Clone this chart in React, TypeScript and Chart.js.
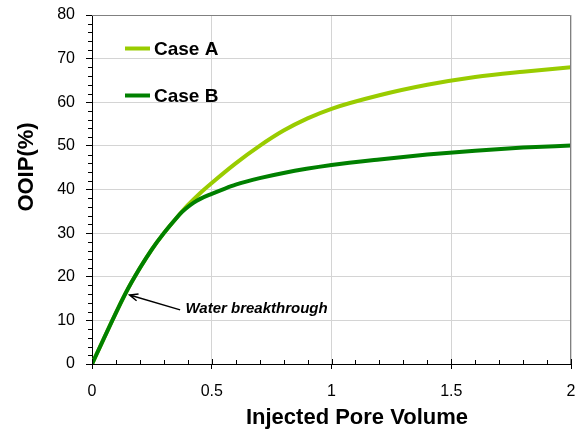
import React, { useEffect, useRef } from "react";
import { Chart, registerables } from "chart.js";

Chart.register(...registerables);

// ---- data ----
const caseLabels = ["Case A", "Case B"];
const caseAPV = [0, 0.14, 0.2, 0.25, 0.3, 0.35, 0.4, 0.45, 0.5, 0.6, 0.7, 0.8, 0.9, 1.0, 1.2, 1.4, 1.6, 1.8, 2.0];
const caseAOOIP = [0, 16.2, 22.0, 26.3, 30, 33.3, 36.4, 39.1, 41.5, 46, 50, 53.5, 56.3, 58.5, 61.6, 64, 65.8, 67, 68];
const caseBPV = [0, 0.14, 0.2, 0.25, 0.3, 0.35, 0.375, 0.4, 0.425, 0.45, 0.5, 0.55, 0.6, 0.7, 0.8, 1.0, 1.2, 1.4, 1.6, 1.8, 2.0];
const caseBOOIP = [0, 16.2, 22.0, 26.3, 30, 33.3, 34.8, 36.0, 37.0, 37.8, 39.0, 40.1, 41.1, 42.6, 43.8, 45.6, 46.9, 48.0, 48.9, 49.6, 50.1];
const xMin = 0, xMax = 2, xStep = 0.5, xMinorStep = 0.1;
const yMin = 0, yMax = 80, yStep = 10, yMinorStep = 2;
const xTitle = "Injected Pore Volume";
const yTitle = "OOIP(%)";
const annotationText = "Water breakthrough";
const annotationTip = { x: 0.157, y: 15.8 };
const annotationTail = { x: 0.368, y: 12.4 };
const annotationLabelAt = { x: 0.39, y: 12.6 };

const colors = ["#99CC00", "#008000"];
const FONT = "'Liberation Sans', Arial, Helvetica, sans-serif";

const zeroPad = (s: any) => {
  s.paddingTop = 0; s.paddingBottom = 0; s.paddingLeft = 0; s.paddingRight = 0;
};

const decorPlugin = {
  id: "decor",
  afterDraw(chart: any) {
    const { ctx, chartArea: a, scales } = chart;
    const x = scales.x, y = scales.y;
    ctx.save();
    // top/right frame
    ctx.strokeStyle = "#808080";
    ctx.lineWidth = 1;
    ctx.beginPath();
    ctx.moveTo(Math.round(a.left), Math.round(a.top) + 0.5);
    ctx.lineTo(Math.round(a.right) - 0.5, Math.round(a.top) + 0.5);
    ctx.lineTo(Math.round(a.right) - 0.5, Math.round(a.bottom));
    ctx.stroke();

    // minor ticks
    ctx.strokeStyle = "#000";
    ctx.beginPath();
    const nx = Math.round((xMax - xMin) / xMinorStep);
    for (let i = 0; i <= nx; i++) {
      const v = xMin + i * xMinorStep;
      const px = Math.round(x.getPixelForValue(v)) + 0.5;
      const major = i % Math.round(xStep / xMinorStep) === 0;
      const len = major ? 5 : 4;
      ctx.moveTo(px, a.bottom);
      ctx.lineTo(px, a.bottom - len);
    }
    const ny = Math.round((yMax - yMin) / yMinorStep);
    for (let i = 0; i <= ny; i++) {
      if (i % Math.round(yStep / yMinorStep) === 0) continue;
      const v = yMin + i * yMinorStep;
      const py = Math.round(y.getPixelForValue(v)) + 0.5;
      ctx.moveTo(a.left, py);
      ctx.lineTo(a.left - 4, py);
    }
    ctx.stroke();

    // axis titles
    ctx.fillStyle = "#000";
    ctx.font = `bold 22px ${FONT}`;
    ctx.textAlign = "center";
    ctx.textBaseline = "alphabetic";
    ctx.fillText(xTitle, a.left + 265, 424);
    ctx.save();
    ctx.translate(33, a.top + 152);
    ctx.rotate(-Math.PI / 2);
    ctx.fillText(yTitle, 0, 0);
    ctx.restore();

    // legend
    chart.data.datasets.forEach((ds: any, i: number) => {
      const ly = a.top + 33.5 + i * 47;
      ctx.strokeStyle = ds.borderColor;
      ctx.lineWidth = 4;
      ctx.beginPath();
      ctx.moveTo(a.left + 33, ly);
      ctx.lineTo(a.left + 58, ly);
      ctx.stroke();
      ctx.fillStyle = "#000";
      ctx.font = `bold 19px ${FONT}`;
      ctx.textBaseline = "middle";
      ctx.textAlign = "left";
      ctx.fillText(ds.label, a.left + 62, ly + 1);
    });

    // annotation arrow
    const tx = x.getPixelForValue(annotationTip.x), ty = y.getPixelForValue(annotationTip.y);
    const sx = x.getPixelForValue(annotationTail.x), sy = y.getPixelForValue(annotationTail.y);
    ctx.strokeStyle = "#000";
    ctx.lineWidth = 1.5;
    ctx.beginPath();
    ctx.moveTo(sx, sy);
    ctx.lineTo(tx, ty);
    const ang = Math.atan2(sy - ty, sx - tx);
    const hl = 9, spread = 0.4;
    ctx.moveTo(tx + hl * Math.cos(ang + spread), ty + hl * Math.sin(ang + spread));
    ctx.lineTo(tx, ty);
    ctx.lineTo(tx + hl * Math.cos(ang - spread), ty + hl * Math.sin(ang - spread));
    ctx.stroke();
    ctx.fillStyle = "#000";
    ctx.font = `italic bold 15px ${FONT}`;
    ctx.textAlign = "left";
    ctx.textBaseline = "middle";
    ctx.fillText(annotationText, x.getPixelForValue(annotationLabelAt.x), y.getPixelForValue(annotationLabelAt.y));
    ctx.restore();
  },
};

export default function App() {
  const ref = useRef<HTMLCanvasElement>(null);
  useEffect(() => {
    if (!ref.current) return;
    const chart = new Chart(ref.current, {
      type: "line",
      data: {
        datasets: [
          {
            label: caseLabels[0],
            data: caseAPV.map((v, i) => ({ x: v, y: caseAOOIP[i] })),
            borderColor: colors[0],
            backgroundColor: colors[0],
            borderWidth: 4,
            pointRadius: 0,
            cubicInterpolationMode: "monotone",
            order: 1,
          },
          {
            label: caseLabels[1],
            data: caseBPV.map((v, i) => ({ x: v, y: caseBOOIP[i] })),
            borderColor: colors[1],
            backgroundColor: colors[1],
            borderWidth: 4,
            pointRadius: 0,
            cubicInterpolationMode: "monotone",
            order: 0,
          },
        ],
      },
      options: {
        animation: false,
        responsive: false,
        devicePixelRatio: 1,
        layout: { padding: { top: 15, right: 9, left: 0, bottom: 0 } },
        plugins: { legend: { display: false }, tooltip: { enabled: false } },
        scales: {
          x: {
            type: "linear",
            min: xMin,
            max: xMax,
            afterFit: (s: any) => { s.height = 66; zeroPad(s); },
            ticks: { stepSize: xStep, color: "#000", font: { family: FONT, size: 16 }, padding: 13, maxRotation: 0, callback: (v: any) => `${+v}` },
            grid: { color: "#d4d4d4", lineWidth: 1, tickColor: "#000", tickLength: 5 },
            border: { display: true, color: "#000", width: 1 },
            title: { display: false },
          },
          y: {
            type: "linear",
            min: yMin,
            max: yMax,
            afterFit: (s: any) => { s.width = 92; zeroPad(s); },
            ticks: { stepSize: yStep, color: "#000", font: { family: FONT, size: 16 }, padding: 11, callback: (v: any) => `${+v}` },
            grid: { color: "#d4d4d4", lineWidth: 1, tickColor: "#000", tickLength: 6 },
            border: { display: true, color: "#000", width: 1 },
            title: { display: false },
          },
        },
      },
      plugins: [decorPlugin],
    });
    return () => chart.destroy();
  }, []);
  return (
    <div style={{ position: "fixed", left: 0, top: 0, width: 580, height: 430, background: "#fff" }}>
      <canvas ref={ref} width={580} height={430} />
    </div>
  );
}
